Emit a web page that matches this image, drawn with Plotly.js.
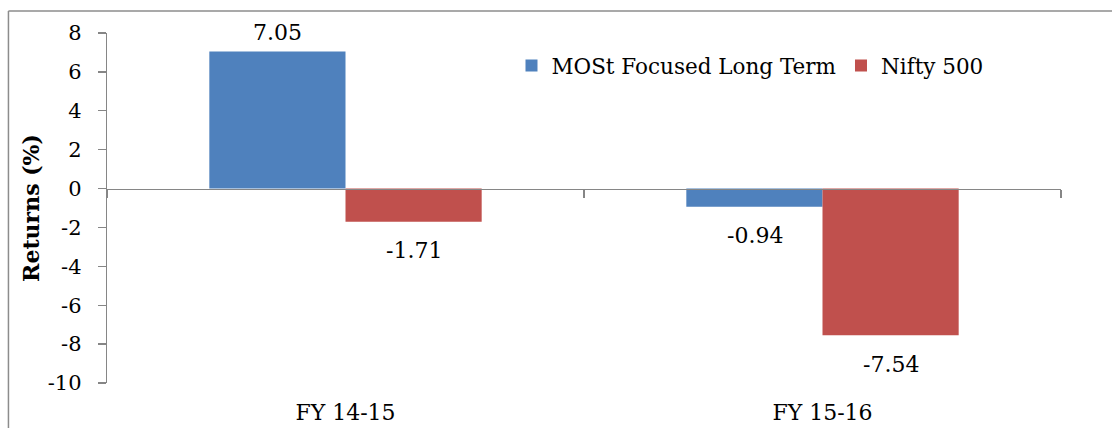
<!DOCTYPE html>
<html>
<head>
<meta charset="utf-8">
<script src="https://cdn.plot.ly/plotly-3.0.1.min.js"></script>
<style>
  html, body { margin: 0; padding: 0; background: #ffffff; }
  #chart { width: 1112px; height: 428px; }
</style>
</head>
<body>
<div id="chart"></div>
<script>
// ---- data ----
const categories = ['FY 14-15', 'FY 15-16'];
const seriesNames = ['MOSt Focused Long Term', 'Nifty 500'];
const mostFocusedValues = [7.05, -0.94];
const nifty500Values = [-1.71, -7.54];
const yTickValues = [-10, -8, -6, -4, -2, 0, 2, 4, 6, 8];
const yTickLabels = ['-10', '-8', '-6', '-4', '-2', '0', '2', '4', '6', '8'];

// ---- style ----
const FONT = 'DejaVu Serif';
const BLUE = '#4F81BD';
const RED = '#C0504D';
const AXIS = '#868686';

const seriesValues = [mostFocusedValues, nifty500Values];
const seriesColors = [BLUE, RED];
const seriesXShift = [-68, 68];

const traces = seriesValues.map((vals, i) => ({
  type: 'bar',
  name: seriesNames[i],
  x: categories,
  y: vals,
  marker: { color: seriesColors[i], line: { width: 0 } },
  hoverinfo: 'skip'
}));

const annotations = [];
seriesValues.forEach((vals, i) => {
  vals.forEach((v, j) => {
    annotations.push({
      xref: 'x', yref: 'y',
      x: categories[j], y: v,
      text: v.toFixed(2),
      showarrow: false,
      xshift: seriesXShift[i],
      yshift: v >= 0 ? 19 : -29,
      yanchor: 'middle',
      font: { family: FONT, size: 22, color: '#000000' }
    });
  });
});

const layout = {
  width: 1112,
  height: 428,
  margin: { l: 107, r: 51, t: 32.5, b: 45.3, pad: 0, autoexpand: false },
  paper_bgcolor: '#ffffff',
  plot_bgcolor: '#ffffff',
  font: { family: FONT, size: 21, color: '#000000' },
  barmode: 'group',
  bargap: 0.429,
  bargroupgap: 0,
  showlegend: true,
  legend: {
    orientation: 'h',
    x: 0.424, xanchor: 'left',
    y: 0.907, yanchor: 'middle',
    font: { family: FONT, size: 21.5, color: '#000000' },
    bgcolor: 'rgba(0,0,0,0)',
    borderwidth: 0,
    traceorder: 'normal'
  },
  xaxis: {
    type: 'category',
    range: [-0.5, 1.5],
    showline: false, showgrid: false, zeroline: false,
    ticks: '',
    ticklabelstandoff: 14,
    tickfont: { family: FONT, size: 22, color: '#000000' },
    fixedrange: true
  },
  xaxis2: {
    overlaying: 'x', anchor: 'free', position: 10 / 18,
    range: [-0.5, 1.5],
    tickmode: 'array', tickvals: [-0.5, 0.5, 1.5],
    ticks: 'outside', ticklen: 8, tickwidth: 1.3, tickcolor: AXIS,
    showticklabels: false,
    showline: true, linecolor: AXIS, linewidth: 1.3,
    showgrid: false, zeroline: false, fixedrange: true
  },
  yaxis: {
    range: [-10, 8],
    tickmode: 'array', tickvals: yTickValues, ticktext: yTickLabels,
    ticks: 'outside', ticklen: 8, tickwidth: 1.3, tickcolor: AXIS,
    showline: true, linecolor: AXIS, linewidth: 1.3,
    showgrid: false, zeroline: false,
    ticklabelstandoff: 12,
    tickfont: { family: FONT, size: 21, color: '#000000' },
    title: {
      text: '<b>Returns (%)</b>',
      font: { family: FONT, size: 22, color: '#000000' },
      standoff: 2
    },
    automargin: false, fixedrange: true
  },
  annotations: annotations,
  shapes: [
    { type: 'line', xref: 'paper', yref: 'paper', x0: -0.1033, x1: 1.2, y0: 1.0628, y1: 1.0628,
      line: { color: '#8c8c8c', width: 1.5 } },
    { type: 'line', xref: 'paper', yref: 'paper', x0: -0.1033, x1: -0.1033, y0: 1.0628, y1: -0.3,
      line: { color: '#8c8c8c', width: 1.5 } }
  ]
};

traces.push({
  type: 'scatter', x: [], y: [], xaxis: 'x2', yaxis: 'y',
  showlegend: false, hoverinfo: 'skip'
});

Plotly.newPlot('chart', traces, layout, { staticPlot: true, displayModeBar: false });
</script>
</body>
</html>
